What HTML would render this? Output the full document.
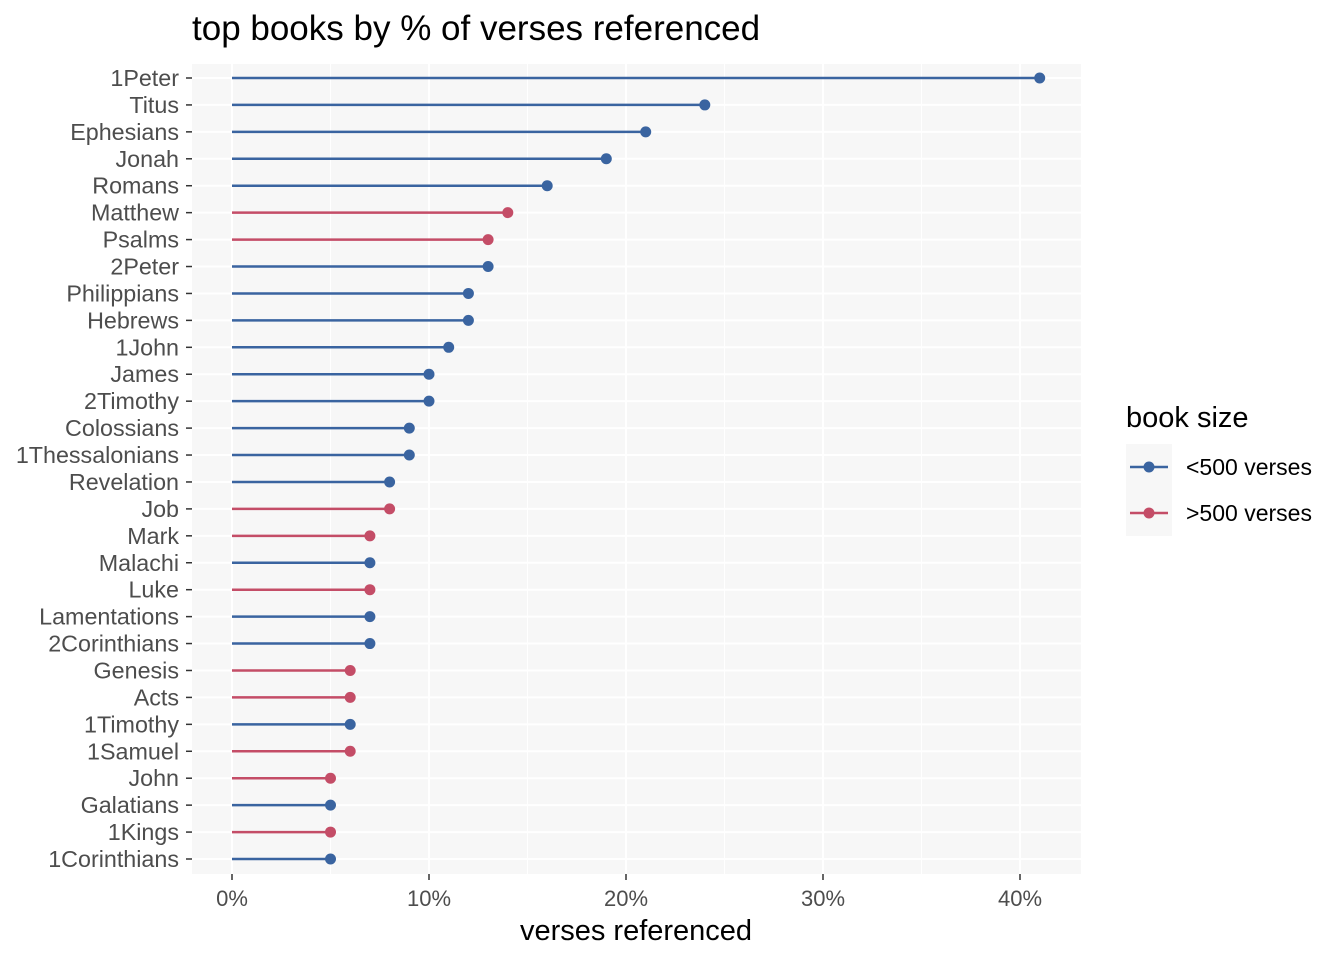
<!DOCTYPE html>
<html><head><meta charset="utf-8"><style>body{margin:0;background:#fff}svg{display:block}text{font-family:"Liberation Sans",Arial,sans-serif}</style></head>
<body>
<svg width="1344" height="960" viewBox="0 0 1344 960" xmlns="http://www.w3.org/2000/svg">
<rect x="192" y="64" width="889" height="810" fill="#f7f7f7"/>
<g id="g"></g>
<text x="192" y="40" font-size="35" fill="#000">top books by % of verses referenced</text>
<text x="636" y="940" font-size="29" text-anchor="middle" fill="#000">verses referenced</text>
<text x="1126" y="427" font-size="29" fill="#000">book size</text>
<rect x="1126" y="444" width="46" height="46" fill="#f7f7f7"/>
<rect x="1126" y="490" width="46" height="46" fill="#f7f7f7"/>
<line x1="1130" y1="467" x2="1168" y2="467" stroke="#3a64a0" stroke-width="2.5"/>
<circle cx="1149" cy="467" r="5.5" fill="#3a64a0"/>
<line x1="1130" y1="513" x2="1168" y2="513" stroke="#c44d67" stroke-width="2.5"/>
<circle cx="1149" cy="513" r="5.5" fill="#c44d67"/>
<text x="1186" y="475" font-size="23" fill="#000">&lt;500 verses</text>
<text x="1186" y="521" font-size="23" fill="#000">&gt;500 verses</text>
</svg>
<script>
var d=[["1Peter",41,0],["Titus",24,0],["Ephesians",21,0],["Jonah",19,0],["Romans",16,0],["Matthew",14,1],["Psalms",13,1],["2Peter",13,0],["Philippians",12,0],["Hebrews",12,0],["1John",11,0],["James",10,0],["2Timothy",10,0],["Colossians",9,0],["1Thessalonians",9,0],["Revelation",8,0],["Job",8,1],["Mark",7,1],["Malachi",7,0],["Luke",7,1],["Lamentations",7,0],["2Corinthians",7,0],["Genesis",6,1],["Acts",6,1],["1Timothy",6,0],["1Samuel",6,1],["John",5,1],["Galatians",5,0],["1Kings",5,1],["1Corinthians",5,0]];
var s="",X=v=>232+v*19.7,n=d.length,Y=i=>78+i*(859-78)/(n-1);
for(var v=5;v<=45;v+=10)s+=`<line x1="${X(v)}" y1="64" x2="${X(v)}" y2="874" stroke="#fff" stroke-width="1"/>`;
for(var v=0;v<=40;v+=10){s+=`<line x1="${X(v)}" y1="64" x2="${X(v)}" y2="874" stroke="#fff" stroke-width="2"/><line x1="${X(v)}" y1="874" x2="${X(v)}" y2="880" stroke="#333" stroke-width="1.5"/><text x="${X(v)}" y="906" font-size="22" text-anchor="middle" fill="#4d4d4d">${v}%</text>`;}
d.forEach((r,i)=>{var y=Y(i);
s+=`<line x1="192" y1="${y}" x2="1081" y2="${y}" stroke="#fff" stroke-width="2"/><line x1="186" y1="${y}" x2="192" y2="${y}" stroke="#333" stroke-width="1.5"/><text x="179" y="${y+8}" font-size="23.3" text-anchor="end" fill="#4d4d4d">${r[0]}</text>`;});
d.forEach((r,i)=>{var y=Y(i),c=r[2]?"#c44d67":"#3a64a0";
s+=`<line x1="232" y1="${y}" x2="${X(r[1])}" y2="${y}" stroke="${c}" stroke-width="2.5"/><circle cx="${X(r[1])}" cy="${y}" r="5.5" fill="${c}"/>`;});
document.getElementById("g").innerHTML=s;
</script>
</body></html>
